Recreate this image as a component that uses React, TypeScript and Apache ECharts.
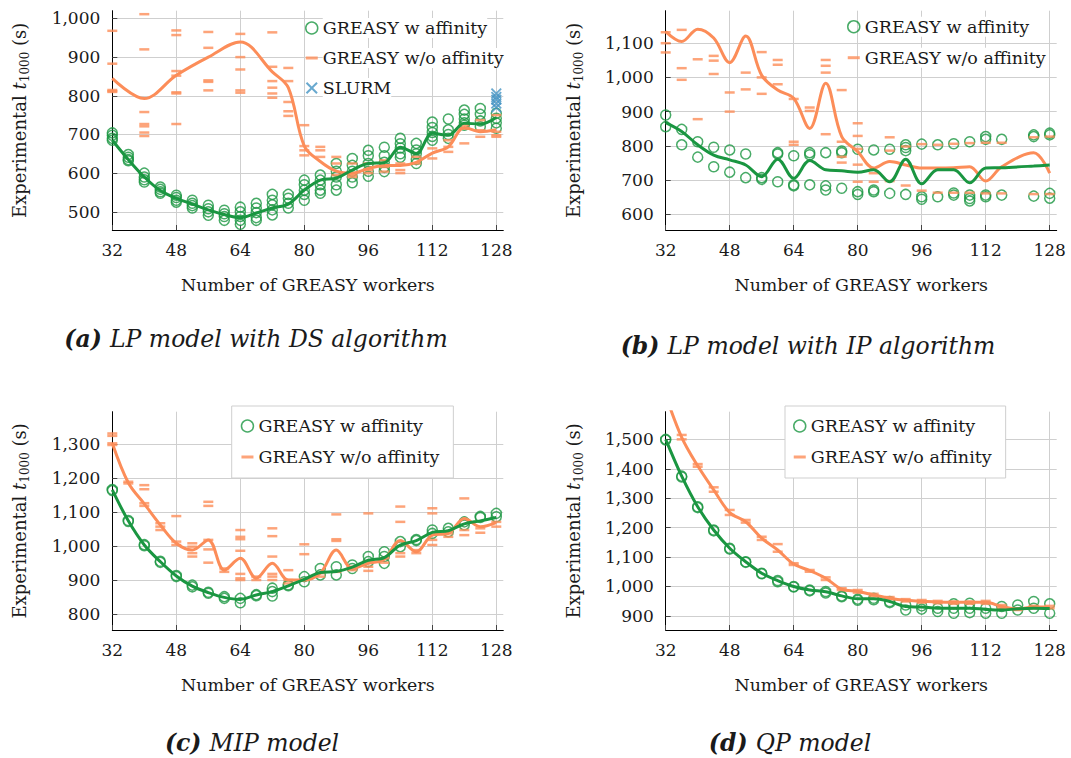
import { useEffect, useRef } from 'react';
import * as echarts from 'echarts';

// Colours and fonts
const GREEN = '#1a9641';
const ORANGE = '#fc8d59';
const BLUE = '#4393c3';
const INK = '#1a1a1a';
const FONT = '"DejaVu Serif", "Liberation Serif", serif';

// Shared axis ticks
const workerTicks = [32, 48, 64, 80, 96, 112, 128];
const workers = [32, 36, 40, 44, 48, 52, 56, 60, 64, 68, 72, 76, 80, 84, 88, 92, 96, 100, 104, 108, 112, 116, 120, 124, 128];

// (a) LP model, DS algorithm
const dsTicks = [500, 600, 700, 800, 900, 1000];
const dsAffinityRuns = [
  [704, 698, 690, 685], [648, 641, 635, 632], [600, 590, 583, 577], [564, 558, 552, 548],
  [543, 537, 530, 525], [530, 522, 516, 510], [517, 508, 500, 491], [504, 495, 488, 478],
  [512, 500, 488, 478, 468], [522, 510, 498, 485, 478], [545, 530, 518, 505, 492], [545, 535, 522, 510],
  [582, 570, 556, 545, 530], [595, 582, 570, 556, 548], [625, 605, 590, 570, 556], [638, 620, 605, 590, 575],
  [659, 645, 625, 605, 592], [667, 645, 628, 615, 604], [690, 676, 665, 650, 641], [677, 660, 650, 635, 625],
  [732, 718, 705, 695, 685], [740, 712, 700, 690], [763, 752, 740, 730, 724], [767, 752, 735, 720],
  [755, 742, 730, 716],
];
const dsAffinityMean = [685, 635, 590, 555, 535, 520, 505, 493, 485, 497, 510, 520, 556, 582, 587, 608, 625, 627, 667, 651, 703, 698, 729, 727, 744];
const dsNoAffinityWorkers = [32, 40, 48, 56, 64, 72, 76, 80, 84, 88, 92, 96, 100, 104, 108, 112, 116, 120, 124, 128];
const dsNoAffinityRuns = [
  [968, 883, 815, 812, 810], [1011, 920, 758, 727, 721, 705, 696], [969, 957, 864, 852, 809, 806, 727],
  [965, 924, 840, 836, 814], [960, 900, 868, 814, 808], [964, 875, 838, 821, 806, 795],
  [872, 838, 784, 760, 748], [724, 670, 659, 646], [668, 659, 642], [642, 625, 595],
  [625, 595, 590], [625, 608, 600], [633, 616, 604], [625, 608, 600], [642, 625],
  [664, 638], [685, 668, 655], [724, 715, 677], [737, 711, 694], [750, 707, 698, 694],
];
const dsNoAffinityMean = [845, 793, 853, 900, 939, 862, 821, 670, 630, 605, 600, 612, 620, 620, 628, 652, 668, 718, 707, 712];
const slurmWorkers = [128, 128, 128, 128, 128];
const slurmRuns = [806, 797, 790, 780, 770];

// (b) LP model, IP algorithm
const ipTicks = [600, 700, 800, 900, 1000, 1100];
const ipWorkers = [32, 36, 40, 44, 48, 52, 56, 60, 64, 68, 72, 76, 80, 84, 88, 92, 96, 100, 104, 108, 112, 116, 124, 128];
const ipAffinityRuns = [
  [890, 856], [848, 803], [812, 767], [796, 739], [788, 723], [776, 707], [707, 702],
  [780, 776, 695], [771, 686, 683], [780, 774, 686], [780, 683, 671], [785, 780, 676],
  [790, 666, 658], [788, 671, 666], [790, 661], [803, 795, 786, 658], [805, 651, 644],
  [803, 651], [806, 662, 656], [812, 656, 646, 639], [827, 819, 656, 651], [819, 656],
  [832, 827, 653], [837, 832, 661, 647],
];
const ipAffinityMean = [868, 842, 803, 773, 759, 744, 710, 761, 705, 757, 730, 727, 723, 730, 695, 761, 689, 730, 730, 692, 735, 736, 741, 744];
const ipNoAffinityRuns = [
  [1132, 1100, 1073], [1139, 1027, 993], [1053, 878], [1063, 1049, 1010], [956, 900],
  [1014, 965], [1074, 1000, 952], [1051, 1037, 980], [937, 812, 803], [912, 902],
  [1051, 1034, 1014, 834], [963, 812, 768, 751], [866, 829, 791, 745, 695], [720, 695],
  [825, 786, 697], [798, 684], [805, 669], [803, 663], [806, 663], [808, 663],
  [809, 661], [809, 661], [825, 659], [827, 659],
];
const ipNoAffinityMean = [1134, 1105, 1141, 1115, 1043, 1121, 1006, 963, 939, 851, 983, 827, 783, 735, 754, 744, 735, 735, 736, 739, 697, 739, 780, 720];

// (c) MIP model
const mipTicks = [800, 900, 1000, 1100, 1200, 1300];
const mipAffinityRuns = [
  [1166, 1163], [1075, 1072], [1004, 1001], [955, 952], [913, 910], [885, 880], [864, 861],
  [851, 846], [846, 833], [857, 854], [876, 866, 853], [886, 883], [910, 895], [934, 915],
  [939, 915], [944, 934], [969, 954], [983, 969, 949], [1013, 998], [1019, 1016],
  [1047, 1037], [1052, 1042], [1071, 1062], [1087, 1084], [1096, 1086],
];
const mipAffinityMean = [1165, 1074, 1003, 954, 912, 882, 863, 849, 843, 856, 866, 883, 902, 922, 925, 938, 958, 966, 1003, 1016, 1040, 1045, 1065, 1074, 1084];
const mipNoAffinityRuns = [
  [1331, 1324, 1302, 1297], [1189, 1184], [1179, 1167, 1126, 1118], [1067, 1057, 1047],
  [1088, 1013, 1003], [1008, 998, 979, 969], [1130, 1118, 1018, 990, 951], [934, 924],
  [1047, 1027, 1020, 986, 918, 905, 900], [910, 900], [1052, 1029, 969, 918, 910, 900],
  [929, 900, 890], [1005, 976, 900], [920, 910], [1093, 1020, 1015, 924], [939, 929],
  [1096, 954, 939, 927], [964, 951], [1116, 1071, 979, 969], [988, 979],
  [1111, 1096, 1018, 1003], [1037, 1027], [1140, 1047, 1032], [1052, 1039], [1071, 1057],
];
const mipNoAffinityMean = [1302, 1186, 1124, 1062, 1008, 988, 1018, 929, 964, 905, 949, 900, 900, 920, 988, 934, 949, 961, 1016, 983, 1032, 1037, 1081, 1057, 1069];

// (d) QP model
const qpTicks = [900, 1000, 1100, 1200, 1300, 1400, 1500];
const qpAffinityRuns = [
  [1500, 1498], [1375, 1372], [1271, 1268], [1192, 1189], [1130, 1127], [1084, 1082], [1045, 1043],
  [1020, 1016], [1000, 998], [988, 985], [983, 978], [968, 965], [957, 953], [960, 955],
  [949, 945], [937, 920], [934, 923], [926, 915], [941, 926, 909], [943, 926, 911],
  [926, 909], [932, 909], [937, 920], [949, 926], [941, 909],
];
const qpAffinityMean = [1500, 1375, 1271, 1192, 1130, 1084, 1045, 1020, 1000, 988, 982, 968, 958, 958, 949, 932, 930, 926, 926, 926, 922, 920, 924, 926, 925];
const qpNoAffinityRunWorkers = workers.slice(1);
const qpNoAffinityRuns = [
  [1515, 1500], [1416, 1407], [1337, 1322], [1260, 1243], [1226, 1217], [1169, 1158],
  [1144, 1118], [1079, 1073], [1056, 1050], [1031, 1022], [994, 988], [988, 979],
  [975, 966], [964, 957], [957, 949], [954, 945], [951, 943], [949, 941], [949, 941],
  [951, 941], [937, 926], [926, 920], [934, 926], [934, 926],
];
const qpNoAffinityMean = [1650, 1507, 1410, 1328, 1251, 1220, 1164, 1124, 1076, 1054, 1028, 991, 983, 971, 960, 953, 950, 947, 946, 946, 946, 932, 923, 930, 930];

// Captions
const captionTags = ['(a)', '(b)', '(c)', '(d)'];
const captionTexts = ['LP model with DS algorithm', 'LP model with IP algorithm', 'MIP model', 'QP model'];

const AFF = 'GREASY w affinity';
const NOAFF = 'GREASY w/o affinity';
const SLURM = 'SLURM';
const X_ICON = 'path://M0,1.2 L1.2,0 L5,3.8 L8.8,0 L10,1.2 L6.2,5 L10,8.8 L8.8,10 L5,6.2 L1.2,10 L0,8.8 L3.8,5 Z';
const DASH_ICON = 'path://M0,0 L10,0 L10,2.5 L0,2.5 Z';

function runsToPoints(xs: number[], runs: number[][]) {
  const out: number[][] = [];
  xs.forEach((x, i) => runs[i].forEach((v) => out.push([x, v])));
  return out;
}
function zip(xs: number[], ys: number[]) {
  return xs.map((x, i) => [x, ys[i]]);
}
const thousands = (v: number) => v.toLocaleString('en-US');

const panels = [
  {
    affX: workers, affRuns: dsAffinityRuns, affMean: dsAffinityMean,
    noX: dsNoAffinityWorkers, noRuns: dsNoAffinityRuns, noMeanX: dsNoAffinityWorkers, noMean: dsNoAffinityMean,
    yTicks: dsTicks, yMin: 453, yMax: 1020, slurm: true,
  },
  {
    affX: ipWorkers, affRuns: ipAffinityRuns, affMean: ipAffinityMean,
    noX: ipWorkers, noRuns: ipNoAffinityRuns, noMeanX: ipWorkers, noMean: ipNoAffinityMean,
    yTicks: ipTicks, yMin: 554, yMax: 1195, slurm: false,
  },
  {
    affX: workers, affRuns: mipAffinityRuns, affMean: mipAffinityMean,
    noX: workers, noRuns: mipNoAffinityRuns, noMeanX: workers, noMean: mipNoAffinityMean,
    yTicks: mipTicks, yMin: 753, yMax: 1395, slurm: false,
  },
  {
    affX: workers, affRuns: qpAffinityRuns, affMean: qpAffinityMean,
    noX: qpNoAffinityRunWorkers, noRuns: qpNoAffinityRuns, noMeanX: workers, noMean: qpNoAffinityMean,
    yTicks: qpTicks, yMin: 852, yMax: 1594, slurm: false,
  },
];

// Panel placement on the page
const gridBoxes = [
  { left: 112.3, top: 10.7, width: 391, height: 219.3 },
  { left: 665.7, top: 10.7, width: 391, height: 219.3 },
  { left: 112.3, top: 411.7, width: 391, height: 218.3 },
  { left: 665.7, top: 411.7, width: 391, height: 218.3 },
];
const captionPos = [
  { x: 256, y: 339 },
  { x: 808, y: 346 },
  { x: 252, y: 743 },
  { x: 790, y: 743 },
];

function buildOption() {
  const circleStyle = { color: 'rgba(255,255,255,0)', borderColor: GREEN, borderWidth: 1.5 };

  const grid = gridBoxes.map((b) => ({ ...b, containLabel: false }));

  const xAxis = gridBoxes.map((_, i) => ({
    type: 'value',
    gridIndex: i,
    min: 32,
    max: 129.75,
    axisLine: { show: true, lineStyle: { color: '#000', width: 1 } },
    axisTick: { show: true, inside: true, length: 5, customValues: workerTicks, lineStyle: { color: '#444' } },
    axisLabel: { customValues: workerTicks, fontFamily: FONT, fontSize: 17, color: INK, margin: 11 },
    splitLine: { show: true, lineStyle: { color: '#cfcfcf', width: 1 } },
    name: 'Number of GREASY workers',
    nameLocation: 'middle',
    nameGap: 46,
    nameTextStyle: { fontFamily: FONT, fontSize: 17.4, color: INK },
  }));

  const yAxis = panels.map((p, i) => ({
    type: 'value',
    gridIndex: i,
    min: p.yMin,
    max: p.yMax,
    axisLine: { show: true, lineStyle: { color: '#000', width: 1 } },
    axisTick: { show: true, inside: true, length: 5, customValues: p.yTicks, lineStyle: { color: '#444' } },
    axisLabel: { customValues: p.yTicks, formatter: thousands, fontFamily: FONT, fontSize: 17, color: INK, margin: 12 },
    splitLine: { show: true, lineStyle: { color: '#cfcfcf', width: 1 } },
    name: '{a|Experimental }{i|t}{s|1000}{a| (s)}',
    nameLocation: 'middle',
    nameGap: 81,
    nameTextStyle: {
      fontFamily: FONT,
      fontSize: 18,
      color: INK,
      rich: {
        a: { fontFamily: FONT, fontSize: 18, color: INK, lineHeight: 23, verticalAlign: 'middle' },
        i: { fontFamily: FONT, fontSize: 18, color: INK, fontStyle: 'italic', lineHeight: 23, verticalAlign: 'middle' },
        s: { fontFamily: FONT, fontSize: 12, color: INK, lineHeight: 12, padding: [7, 0, 0, 0], verticalAlign: 'bottom' },
      },
    },
  }));

  const series: any[] = [];
  panels.forEach((p, i) => {
    series.push({
      type: 'scatter', name: AFF, xAxisIndex: i, yAxisIndex: i,
      data: runsToPoints(p.affX, p.affRuns),
      symbol: 'circle', symbolSize: 10, itemStyle: circleStyle, z: 2, silent: true,
    });
    series.push({
      type: 'scatter', name: NOAFF, xAxisIndex: i, yAxisIndex: i,
      data: runsToPoints(p.noX, p.noRuns),
      symbol: 'rect', symbolSize: [10, 2.5], itemStyle: { color: ORANGE }, z: 2, silent: true,
    });
    if (p.slurm) {
      series.push({
        type: 'scatter', name: SLURM, xAxisIndex: i, yAxisIndex: i,
        data: zip(slurmWorkers, slurmRuns),
        symbol: X_ICON, symbolSize: 11, itemStyle: { color: BLUE }, z: 2, silent: true,
      });
    }
    series.push({
      type: 'line', name: NOAFF + ' trend', xAxisIndex: i, yAxisIndex: i,
      data: zip(p.noMeanX, p.noMean), smooth: 0.35, showSymbol: false, symbol: 'none',
      lineStyle: { color: ORANGE, width: 3 }, z: 3, silent: true,
    });
    series.push({
      type: 'line', name: AFF + ' trend', xAxisIndex: i, yAxisIndex: i,
      data: zip(p.affX, p.affMean), smooth: 0.35, showSymbol: false, symbol: 'none',
      lineStyle: { color: GREEN, width: 3 }, z: 4, silent: true,
    });
  });

  const legendItems = (withSlurm: boolean) => {
    const items: any[] = [
      { name: AFF, icon: 'circle', itemStyle: circleStyle },
      { name: NOAFF, icon: DASH_ICON, itemStyle: { color: ORANGE, borderWidth: 0 } },
    ];
    if (withSlurm) items.push({ name: SLURM, icon: X_ICON, itemStyle: { color: BLUE, borderWidth: 0 } });
    return items;
  };
  const legendBase = {
    orient: 'vertical',
    itemWidth: 12,
    itemHeight: 12,
    selectedMode: false,
    symbolKeepAspect: true,
  };
  const legendText = { fontFamily: FONT, fontSize: 17.5, color: INK, lineHeight: 20 };
  const legend = [
    {
      ...legendBase, left: 305, top: 18, padding: 0, itemGap: 10,
      data: legendItems(true),
      textStyle: { ...legendText, backgroundColor: '#fff' },
    },
    {
      ...legendBase, left: 847, top: 16.7, padding: 0, itemGap: 11,
      data: legendItems(false),
      textStyle: { ...legendText, backgroundColor: '#fff' },
    },
    {
      ...legendBase, left: 231.7, top: 406, padding: [10, 14, 11, 9], itemGap: 11,
      borderColor: '#cfcfcf', borderWidth: 1, backgroundColor: '#fff',
      data: legendItems(false),
      textStyle: legendText,
    },
    {
      ...legendBase, left: 785, top: 406, padding: [10, 14, 11, 8], itemGap: 11,
      borderColor: '#cfcfcf', borderWidth: 1, backgroundColor: '#fff',
      data: legendItems(false),
      textStyle: legendText,
    },
  ];

  const graphic = captionPos.map((c, i) => ({
    type: 'text',
    x: c.x,
    y: c.y,
    style: {
      text: `{b|${captionTags[i]} }{t|${captionTexts[i]}}`,
      align: 'center',
      verticalAlign: 'middle',
      rich: {
        b: { fontFamily: FONT, fontSize: 23.5, fontStyle: 'italic', fontWeight: 'bold', fill: INK },
        t: { fontFamily: FONT, fontSize: 23.5, fontStyle: 'italic', fill: INK },
      },
    },
  }));

  return {
    animation: false,
    backgroundColor: '#fff',
    textStyle: { fontFamily: FONT },
    grid,
    xAxis,
    yAxis,
    legend,
    series,
    graphic,
  };
}

export default function App() {
  const ref = useRef<HTMLDivElement>(null);
  useEffect(() => {
    if (!ref.current) return;
    const chart = echarts.init(ref.current, undefined, { renderer: 'svg' });
    chart.setOption(buildOption() as any);
    return () => chart.dispose();
  }, []);
  return (
    <div
      ref={ref}
      style={{ position: 'absolute', left: 0, top: 0, width: 1071, height: 758, background: '#fff' }}
    />
  );
}
